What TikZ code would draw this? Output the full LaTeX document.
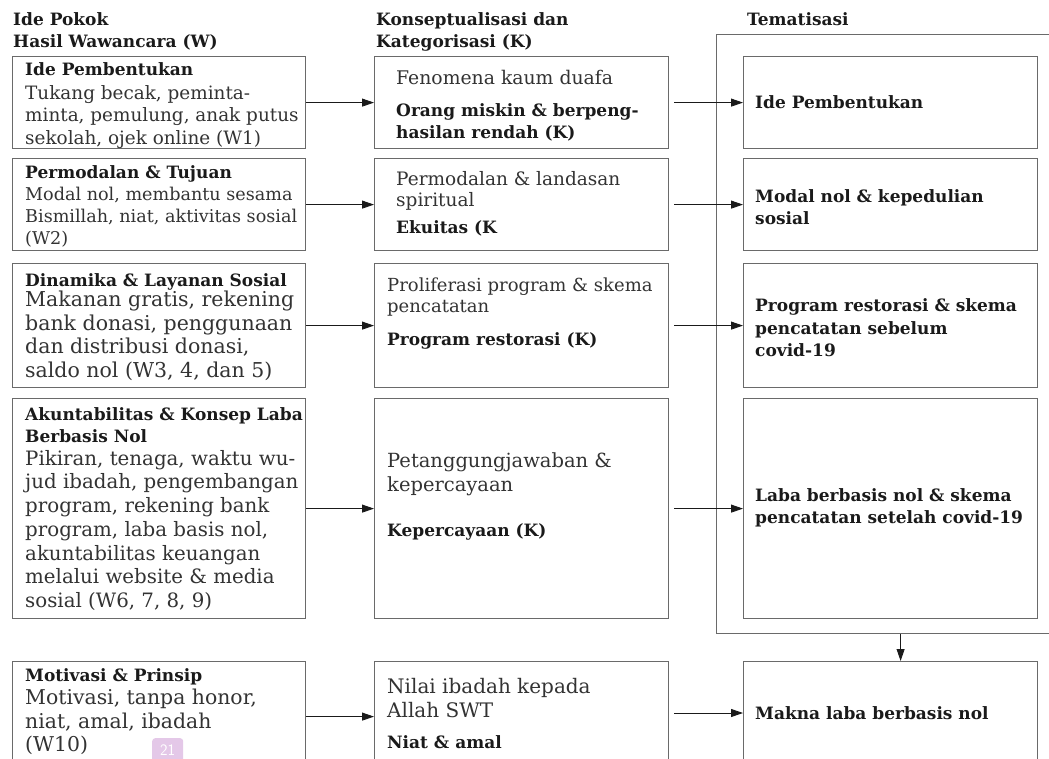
\documentclass[tikz,border=0pt]{standalone}
\usepackage{fontspec}
\setmainfont{DejaVu Serif}
\usepackage{tikz}
\usetikzlibrary{arrows.meta, positioning}
\definecolor{colorLine}{HTML}{6A6A6A}
\definecolor{colorText}{HTML}{333333}
\definecolor{colorBold}{HTML}{1A1A1A}
\definecolor{colorPage}{HTML}{E4C8E8}

\tikzset{
  box/.style={draw=colorLine, line width=1.2pt, anchor=north west, inner sep=0pt},
  plain/.style={anchor=north west, inner sep=0pt, align=left, text=colorText},
  heavy/.style={anchor=north west, inner sep=0pt, align=left, text=colorBold,
    font=\fontsize{17}{22.5}\selectfont\bfseries},
  arr/.style={-{Triangle[length=12pt,width=8pt]}, line width=0.9pt, draw=colorBold},
}

\begin{document}
\begin{tikzpicture}[x=1pt, y=-1pt]
        \clip (0,0) rectangle (1049,759);
        \fill[white] (0,0) rectangle (1049,759);

        % column titles
        \node[heavy] (titleW) at (13,12) {Ide Pokok\\Hasil Wawancara (W)};
        \node[heavy] (titleK) at (376,12) {Konseptualisasi dan\\Kategorisasi (K)};
        \node[heavy] (titleT) at (747,12) {Tematisasi};

        % frame round the themes
        \node[box, minimum width=368pt, minimum height=599pt] (tema) at (716,34) {};

        % boxes
        \node[box, minimum width=293pt, minimum height=92pt] (w1) at (12,56) {};
        \node[box, minimum width=293pt, minimum height=92pt] (w2) at (12,158) {};
        \node[box, minimum width=293pt, minimum height=124pt] (w3) at (12,263) {};
        \node[box, minimum width=293pt, minimum height=220pt] (w4) at (12,398) {};
        \node[box, minimum width=293pt, minimum height=110pt] (w5) at (12,661) {};

        \node[box, minimum width=294pt, minimum height=92pt] (k1) at (374,56) {};
        \node[box, minimum width=294pt, minimum height=92pt] (k2) at (374,158) {};
        \node[box, minimum width=294pt, minimum height=124pt] (k3) at (374,263) {};
        \node[box, minimum width=294pt, minimum height=220pt] (k4) at (374,398) {};
        \node[box, minimum width=294pt, minimum height=110pt] (k5) at (374,661) {};

        \node[box, minimum width=294pt, minimum height=92pt] (t1) at (743,56) {};
        \node[box, minimum width=294pt, minimum height=92pt] (t2) at (743,158) {};
        \node[box, minimum width=294pt, minimum height=124pt] (t3) at (743,263) {};
        \node[box, minimum width=294pt, minimum height=220pt] (t4) at (743,398) {};
        \node[box, minimum width=294pt, minimum height=104pt] (t5) at (743,661) {};

        % interview texts
        \node[heavy] (w1h) at (25,62) {Ide Pembentukan};
        \node[plain, font=\fontsize{18.4}{22.5}\selectfont] (w1b) at (25,85)
            {Tukang becak, peminta-\\minta, pemulung, anak putus\\sekolah, ojek online (W1)};
        \node[heavy] (w2h) at (25,165) {Permodalan \& Tujuan};
        \node[plain, font=\fontsize{17.6}{21.8}\selectfont] (w2b) at (25,187)
            {Modal nol, membantu sesama\\Bismillah, niat, aktivitas sosial\\(W2)};
        \node[heavy] (w3h) at (25,273) {Dinamika \& Layanan Sosial};
        \node[plain, font=\fontsize{20.5}{23.6}\selectfont] (w3b) at (25,291)
            {Makanan gratis, rekening\\bank donasi, penggunaan\\dan distribusi donasi,\\saldo nol (W3, 4, dan 5)};
        \node[heavy] (w4h) at (25,407) {Akuntabilitas \& Konsep Laba\\Berbasis Nol};
        \node[plain, font=\fontsize{19.8}{23.7}\selectfont] (w4b) at (25,450)
            {Pikiran, tenaga, waktu wu-\\jud ibadah, pengembangan\\program, rekening bank\\program, laba basis nol,\\akuntabilitas keuangan\\melalui website \& media\\sosial (W6, 7, 8, 9)};
        \node[heavy] (w5h) at (25,668) {Motivasi \& Prinsip};
        \node[plain, font=\fontsize{20.4}{23.5}\selectfont] (w5b) at (25,689)
            {Motivasi, tanpa honor,\\niat, amal, ibadah\\(W10)};

        % category texts
        \node[plain, font=\fontsize{18.8}{24}\selectfont] (k1a) at (396,70) {Fenomena kaum duafa};
        \node[heavy] (k1b) at (396,103) {Orang miskin \& berpeng-\\hasilan rendah (K)};
        \node[plain, font=\fontsize{18.5}{21}\selectfont] (k2a) at (396,171) {Permodalan \& landasan\\spiritual};
        \node[heavy] (k2b) at (396,220) {Ekuitas (K};
        \node[plain, font=\fontsize{18}{21}\selectfont] (k3a) at (387,278) {Proliferasi program \& skema\\pencatatan};
        \node[heavy] (k3b) at (387,332) {Program restorasi (K)};
        \node[plain, font=\fontsize{19.5}{24}\selectfont] (k4a) at (387,452) {Petanggungjawaban \&\\kepercayaan};
        \node[heavy] (k4b) at (387,523) {Kepercayaan (K)};
        \node[plain, font=\fontsize{20}{24}\selectfont] (k5a) at (387,678) {Nilai ibadah kepada\\Allah SWT};
        \node[heavy] (k5b) at (387,735) {Niat \& amal};

        % theme texts
        \node[heavy, anchor=west] (t1t) at (755,102) {Ide Pembentukan};
        \node[heavy, anchor=west] (t2t) at (755,207) {Modal nol \& kepedulian\\sosial};
        \node[heavy, anchor=west] (t3t) at (755,328) {Program restorasi \& skema\\pencatatan sebelum\\covid-19};
        \node[heavy, anchor=west] (t4t) at (755,508) {Laba berbasis nol \& skema\\pencatatan setelah covid-19};
        \node[heavy, anchor=west] (t5t) at (755,713) {Makna laba berbasis nol};

        % arrows
        \draw[arr] (w1) -- (k1);
        \draw[arr] (w2) -- (k2);
        \draw[arr] (w3) -- (k3);
        \draw[arr] (w4) -- (k4);
        \draw[arr] (w5.east |- k5.west) -- (k5.west);
        \draw[arr] ([xshift=5pt]k1.east) -- (t1.west);
        \draw[arr] ([xshift=5pt]k2.east) -- (t2.west);
        \draw[arr] ([xshift=5pt]k3.east) -- (t3.west);
        \draw[arr] ([xshift=5pt]k4.east) -- (t4.west);
        \draw[arr] ([xshift=5pt]k5.east |- t5t.west) -- (t5t.west -| t5.west);
        \draw[arr] (tema.south) -- (tema.south |- t5.north);

        % page number
        \node[fill=colorPage, rounded corners=3pt, minimum width=31pt, minimum height=24pt,
            inner sep=1pt, text=white, font=\sffamily\fontsize{16}{16}\selectfont,
            anchor=north west] (hal) at (152,738) {21};
\end{tikzpicture}
\end{document}
